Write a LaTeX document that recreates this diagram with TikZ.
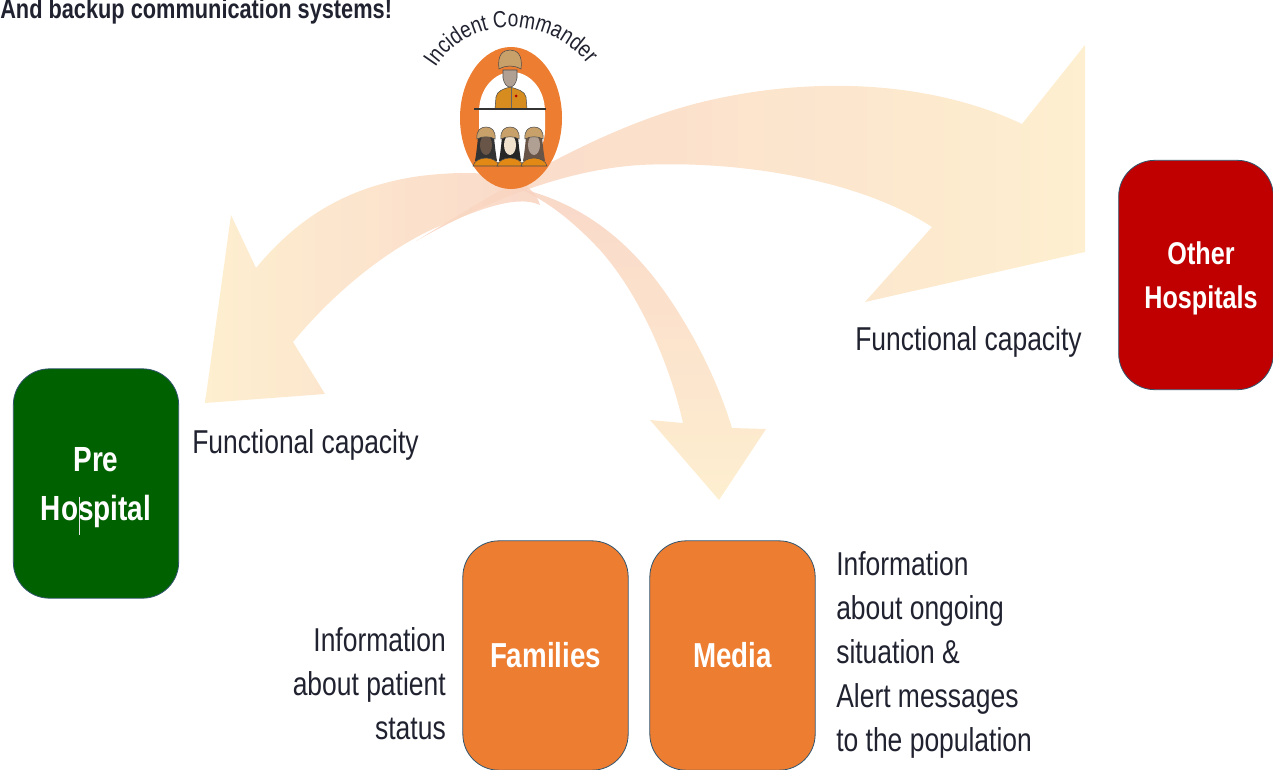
\documentclass[tikz,border=0pt]{standalone}
\usepackage{fontspec}
\setmainfont[FakeStretch=0.8]{Liberation Sans}
\newfontfamily\arcfont[FakeStretch=0.82]{Liberation Sans}
\usetikzlibrary{decorations.text}
\definecolor{inkdark}{RGB}{32,34,48}
\definecolor{boxedge}{RGB}{50,85,110}
\definecolor{boxgreen}{RGB}{0,97,0}
\definecolor{boxred}{RGB}{192,0,0}
\definecolor{boxorange}{RGB}{237,125,49}
\definecolor{tailpeach}{RGB}{248,210,192}
\definecolor{midpeach}{RGB}{251,226,205}
\definecolor{headcream}{RGB}{254,236,200}
\definecolor{hatbrown}{RGB}{200,160,105}
\definecolor{vestgold}{RGB}{214,140,30}
\definecolor{facegray}{RGB}{176,160,148}
\definecolor{facedark}{RGB}{105,85,72}
\definecolor{facepale}{RGB}{240,225,205}
\tikzset{
  roundbox/.style={draw=boxedge,line width=0.6pt,rounded corners=27pt,minimum width=124pt,minimum height=172pt,inner sep=0pt,align=center,text=white,font=\fontsize{26}{33}\selectfont\bfseries},
  infolabel/.style={inner sep=0pt,text=inkdark,font=\fontsize{24.8}{33}\selectfont},
  swoosh/.style={opacity=0.85},
  crewline/.style={draw=black!70,line width=0.4pt}
}
\begin{document}
\begin{tikzpicture}[x=0.75pt,y=0.75pt,yscale=-1,xscale=1]
  \useasboundingbox (0,0) rectangle (1273,770);
  % title line
  \node[anchor=north west,inner sep=0pt,text=inkdark,font=\fontsize{20.4}{24}\selectfont\bfseries] (backup) at (0,-1) {And backup communication systems!};

  % swoosh to other hospitals
  \shade[swoosh,left color=tailpeach,middle color=midpeach,right color=headcream]
    (416,241) .. controls (500,190) and (610,120) .. (720,98) .. controls (830,75) and (940,85) .. (1022,124)
    -- (1085,45) -- (1085,252) -- (865,302) -- (932,227)
    .. controls (860,180) and (740,160) .. (640,165) .. controls (560,170) and (480,205) .. (416,241) -- cycle;
  % swoosh to pre hospital
  \shade[swoosh,right color=tailpeach,middle color=midpeach,left color=headcream]
    (540,205) .. controls (530,170) and (470,170) .. (420,176) .. controls (350,186) and (300,215) .. (256,268)
    -- (231,215) -- (205,403) -- (325,394) -- (293,342)
    .. controls (340,285) and (400,240) .. (450,222) .. controls (490,205) and (520,196) .. (540,205) -- cycle;
  % swoosh to media
  \shade[swoosh,top color=tailpeach,middle color=midpeach,bottom color=headcream]
    (518,188) .. controls (590,205) and (640,250) .. (680,315) .. controls (705,355) and (722,395) .. (732,428)
    -- (766,429) -- (719,500) -- (650,420) -- (683,423)
    .. controls (670,365) and (640,295) .. (600,250) .. controls (570,218) and (545,200) .. (518,188) -- cycle;

  % commander icon
  \fill[boxorange] (511,118) ellipse [x radius=51,y radius=71];
  \fill[white] (479,112) .. controls (479,88) and (495,72) .. (512,72) .. controls (529,72) and (545,88) .. (545,112)
    -- (545,130) .. controls (545,150) and (530,166) .. (512,166) .. controls (494,166) and (479,150) .. (479,130) -- cycle;
  % leader at the table
  \filldraw[crewline,fill=vestgold] (495,109) -- (496,97) .. controls (497,91) and (503,89) .. (510,87) .. controls (517,89) and (525,91) .. (526,97) -- (527,109) -- cycle;
  \draw[black!60,line width=0.4pt] (511,88) -- (511,109);
  \fill[red!70!black] (516,96) circle (1.5);
  \filldraw[crewline,fill=facegray] (503,70) -- (503,78) .. controls (504,84) and (507,87) .. (510,87) .. controls (513,87) and (516,84) .. (517,78) -- (517,70) -- cycle;
  \filldraw[crewline,fill=hatbrown] (499,69) .. controls (497,55) and (503,50) .. (510,50) .. controls (517,50) and (523,55) .. (521,69) .. controls (514,65) and (506,65) .. (499,69) -- cycle;
  \draw[line width=1pt,black!80] (474,109) -- (546,109);
  % crew below the table
  \foreach \cx/\haircol/\facecol in {486/black!80/facedark,510/black!85/facepale,534/facedark/facegray}{
    \fill[\haircol] (\cx-8,137) .. controls (\cx-9,148) and (\cx-10,155) .. (\cx-11,161) -- (\cx+11,161) .. controls (\cx+10,155) and (\cx+9,148) .. (\cx+8,137) -- cycle;
    \fill[\facecol] (\cx,145) ellipse [x radius=6,y radius=10];
    \filldraw[crewline,fill=hatbrown] (\cx-9,139) .. controls (\cx-10,130) and (\cx-5,127) .. (\cx,127) .. controls (\cx+5,127) and (\cx+10,130) .. (\cx+9,139) .. controls (\cx+4,136) and (\cx-4,136) .. (\cx-9,139) -- cycle;
    \filldraw[crewline,fill=vestgold!70!orange] (\cx-13,166) .. controls (\cx-12,161) and (\cx-6,158) .. (\cx,158) .. controls (\cx+6,158) and (\cx+12,161) .. (\cx+13,166) -- cycle;
  }
  \path[decorate,decoration={text along path,text align=center,text={|\arcfont\fontsize{17.5}{20}\selectfont\color{inkdark}|Incident Commander}}]
    (430,77) .. controls (448,42) and (478,28) .. (510,27) .. controls (545,27) and (577,45) .. (594,73);

  % boxes
  \node[roundbox,fill=boxgreen,font=\fontsize{26.2}{37}\selectfont\bfseries] (prehosp) at (96,483.5) {\rule{0pt}{24pt}Pre\\Hospital};
  \node[roundbox,fill=boxred,minimum width=116pt,font=\fontsize{23.6}{33}\selectfont\bfseries] (otherhosp) at (1196,275) {\hspace*{7.5pt}\rule{0pt}{22pt}Other\\\hspace*{7.5pt}Hospitals};
  \node[roundbox,fill=boxorange] (families) at (545.5,655.5) {Families};
  \node[roundbox,fill=boxorange] (media) at (732.5,655.5) {Media};
  \draw[white!80!gray,line width=0.4pt] ([shift={(-17,13)}]prehosp.center) -- ([shift={(-17,51)}]prehosp.center);

  % labels
  \node[infolabel,anchor=west] (capleft) at (192,445) {Functional capacity};
  \node[infolabel,anchor=west] (capright) at (855,342) {Functional capacity};
  \node[infolabel,anchor=east,align=right] (patientinfo) at (446,683.5) {Information\\about patient\\status};
  \node[infolabel,anchor=west,align=left] (mediainfo) at (836,655) {Information\\about ongoing\\situation \&\\Alert messages\\to the population};
\end{tikzpicture}
\end{document}
